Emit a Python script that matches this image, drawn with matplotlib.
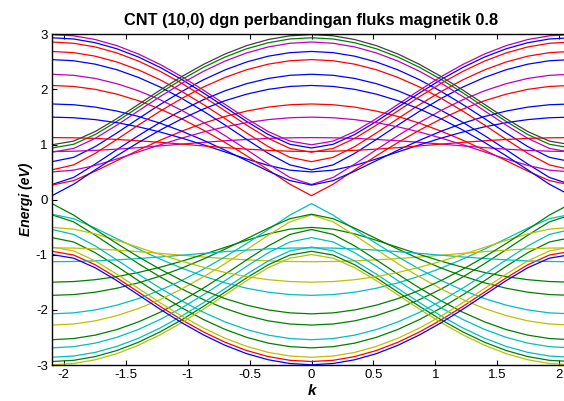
import numpy as np
import matplotlib
matplotlib.use("Agg")
import matplotlib.pyplot as plt

# Pita energi CNT (10,0), fluks magnetik 0.8
# nilai dibaca dari gambar untuk k >= 0 (kurva simetris terhadap k = 0)
k_half = [0.0, 0.1745, 0.3491, 0.5236, 0.6981, 0.8727, 1.0472,
          1.2217, 1.3963, 1.5708, 1.7453, 1.9199, 2.0944]

# pita konduksi (eV), satu daftar per subpita q
e_q00 = [2.937, 2.915, 2.847, 2.737, 2.587, 2.399, 2.180, 1.937, 1.678, 1.419, 1.182, 1.005, 0.937]
e_q01 = [2.689, 2.667, 2.603, 2.498, 2.354, 2.174, 1.963, 1.726, 1.471, 1.210, 0.963, 0.768, 0.689]
e_q02 = [2.275, 2.256, 2.199, 2.104, 1.975, 1.813, 1.620, 1.402, 1.162, 0.907, 0.646, 0.403, 0.275]
e_q03 = [1.736, 1.722, 1.679, 1.607, 1.509, 1.387, 1.242, 1.078, 0.898, 0.708, 0.517, 0.346, 0.264]
e_q04 = [1.126, 1.122, 1.111, 1.092, 1.068, 1.040, 1.008, 0.975, 0.944, 0.916, 0.894, 0.879, 0.874]
e_q05 = [0.503, 0.535, 0.621, 0.738, 0.866, 0.995, 1.117, 1.227, 1.321, 1.397, 1.452, 1.486, 1.497]
e_q06 = [0.072, 0.280, 0.541, 0.796, 1.038, 1.262, 1.466, 1.644, 1.795, 1.914, 2.001, 2.054, 2.072]
e_q07 = [0.541, 0.631, 0.840, 1.093, 1.354, 1.605, 1.837, 2.043, 2.217, 2.357, 2.458, 2.520, 2.541]
e_q08 = [0.860, 0.930, 1.112, 1.352, 1.612, 1.870, 2.111, 2.328, 2.514, 2.662, 2.771, 2.837, 2.860]
e_q09 = [0.996, 1.062, 1.236, 1.470, 1.729, 1.988, 2.233, 2.453, 2.642, 2.794, 2.905, 2.973, 2.996]
e_q10 = [0.937, 1.005, 1.182, 1.419, 1.678, 1.937, 2.180, 2.399, 2.587, 2.737, 2.847, 2.915, 2.937]
e_q11 = [0.689, 0.768, 0.963, 1.210, 1.471, 1.726, 1.963, 2.174, 2.354, 2.498, 2.603, 2.667, 2.689]
e_q12 = [0.275, 0.403, 0.646, 0.907, 1.162, 1.402, 1.620, 1.813, 1.975, 2.104, 2.199, 2.256, 2.275]
e_q13 = [0.264, 0.346, 0.517, 0.708, 0.898, 1.078, 1.242, 1.387, 1.509, 1.607, 1.679, 1.722, 1.736]
e_q14 = [0.874, 0.879, 0.894, 0.916, 0.944, 0.975, 1.008, 1.040, 1.068, 1.092, 1.111, 1.122, 1.126]
e_q15 = [1.497, 1.486, 1.452, 1.397, 1.321, 1.227, 1.117, 0.995, 0.866, 0.738, 0.621, 0.535, 0.503]
e_q16 = [2.072, 2.054, 2.001, 1.914, 1.795, 1.644, 1.466, 1.262, 1.038, 0.796, 0.541, 0.280, 0.072]
e_q17 = [2.541, 2.520, 2.458, 2.357, 2.217, 2.043, 1.837, 1.605, 1.354, 1.093, 0.840, 0.631, 0.541]
e_q18 = [2.860, 2.837, 2.771, 2.662, 2.514, 2.328, 2.111, 1.870, 1.612, 1.352, 1.112, 0.930, 0.860]
e_q19 = [2.996, 2.973, 2.905, 2.794, 2.642, 2.453, 2.233, 1.988, 1.729, 1.470, 1.236, 1.062, 0.996]

pita = [e_q00, e_q01, e_q02, e_q03, e_q04, e_q05, e_q06, e_q07, e_q08, e_q09,
        e_q10, e_q11, e_q12, e_q13, e_q14, e_q15, e_q16, e_q17, e_q18, e_q19]

x_ticks = [-2, -1.5, -1, -0.5, 0, 0.5, 1, 1.5, 2]
x_ticklabels = ["-2", "-1.5", "-1", "-0.5", "0", "0.5", "1", "1.5", "2"]
y_ticks = [-3, -2, -1, 0, 1, 2, 3]
y_ticklabels = ["-3", "-2", "-1", "0", "1", "2", "3"]

# warna gaya MATLAB lama
warna = {"b": (0, 0, 1), "g": (0, 0.5, 0), "r": (1, 0, 0), "c": (0, 0.75, 0.75),
         "m": (0.75, 0, 0.75), "y": (0.75, 0.75, 0), "k": (0.25, 0.25, 0.25)}
warna_atas = "gbbrmbrbrmbrmbrmbrmk"    # pita konduksi
warna_bawah = "rggcygcgcygcygcygcyb"   # pita valensi

plt.rcParams["font.family"] = ["Liberation Sans", "DejaVu Sans"]
plt.rcParams["axes.unicode_minus"] = False

fig = plt.figure(figsize=(5.64, 4.01), dpi=100)
ax = fig.add_axes([52 / 564, 36 / 401, 519 / 564, 330.7 / 401])

kh = np.array(k_half)
k = np.concatenate([-kh[::-1], kh[1:]])
for i, e in enumerate(pita):
    eh = np.array(e)
    ef = np.concatenate([eh[::-1], eh[1:]])
    ax.plot(k, ef, color=warna[warna_atas[i]], lw=0.9)
    ax.plot(k, -ef, color=warna[warna_bawah[i]], lw=0.9)

ax.set_xlim(-kh[-1], kh[-1])
ax.set_ylim(-3, 3)
ax.set_xticks(x_ticks)
ax.set_xticklabels(x_ticklabels)
ax.set_yticks(y_ticks)
ax.set_yticklabels(y_ticklabels)
ax.tick_params(direction="in", length=3.5, width=0.8, top=True, right=True,
               labelsize=9.5, pad=3)
for s in ax.spines.values():
    s.set_linewidth(1.0)

ax.set_title("CNT (10,0) dgn perbandingan fluks magnetik 0.8",
             fontsize=11.8, fontweight="bold", pad=7)
ax.set_xlabel("k", fontsize=11, fontweight="bold", style="italic", labelpad=2)
ax.set_ylabel("Energi (eV)", fontsize=10, fontweight="bold", style="italic",
              labelpad=2)

fig.savefig("out.png", dpi=100)
